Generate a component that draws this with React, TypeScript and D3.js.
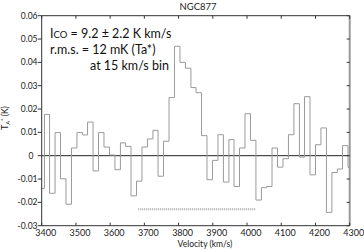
import React from "react";
import * as d3 from "d3";

// Channel left-edge velocities (km/s) and antenna temperatures (K)
const velocities = [
  3392, 3408, 3423, 3439, 3455, 3471, 3487, 3503, 3519, 3534, 3550, 3566, 3582,
  3598, 3614, 3630, 3645, 3661, 3677, 3693, 3709, 3725, 3740, 3756, 3772, 3788,
  3804, 3820, 3836, 3851, 3867, 3883, 3899, 3915, 3931, 3947, 3962, 3978, 3994,
  4010, 4026, 4042, 4057, 4073, 4089, 4105, 4121, 4137, 4153, 4168, 4184, 4200,
  4216, 4232, 4248, 4264, 4279, 4295,
];
const temperatures = [
  -0.014, 0.0177, -0.0161, 0.0099, -0.0099, -0.0208, 0.0033, 0.0099, 0.0089,
  0.0144, -0.0065, 0.0099, 0.0037, 0.0003, -0.006, 0.0055, 0.004, -0.0172,
  -0.0109, 0.0037, 0.0072, 0.0109, -0.0088, 0.0062, 0.0249, 0.0469, 0.04,
  0.0375, 0.0292, 0.027, 0.0086, -0.0103, -0.002, 0.009, -0.0113, 0.0069,
  -0.0132, 0.0033, 0.018, 0.0066, -0.019, -0.0137, -0.0132, 0.0033, -0.0049,
  -0.0013, 0.009, 0.0223, -0.0006, 0.0253, -0.0082, 0.0047, 0.0119, -0.0243,
  -0.0072, -0.0057, 0.0043, -0.005,
];
const channelWidth = 15.85;
const xTicks = [3400, 3500, 3600, 3700, 3800, 3900, 4000, 4100, 4200, 4300];
const yTicks = [-0.03, -0.02, -0.01, 0, 0.01, 0.02, 0.03, 0.04, 0.05, 0.06];
const lineRange = [3682, 4024];
const lineLevel = -0.023;
const title = "NGC877";
const xTitle = "Velocity (km/s)";

const W = 364;
const H = 249;
const L = 41.7;
const R = 349.7;
const T = 15.7;
const B = 225.7;

export default function App() {
  const x = d3.scaleLinear().domain([3400, 4300]).range([L, R]);
  const y = d3.scaleLinear().domain([-0.03, 0.06]).range([B, T]);

  const pts: [number, number][] = velocities.map((v, i) => [v, temperatures[i]]);
  pts.push([velocities[velocities.length - 1] + channelWidth, temperatures[temperatures.length - 1]]);
  const step = d3
    .line<[number, number]>()
    .x((d) => x(d[0]))
    .y((d) => y(d[1]))
    .curve(d3.curveStepAfter)(pts) as string;

  const font = "Lato, 'Liberation Sans', Arial, sans-serif";
  const axisColor = "#333";

  return (
    <svg
      width={W}
      height={H}
      style={{ position: "absolute", left: 0, top: 0, background: "#fff" }}
      fontFamily={font}
    >
      <defs>
        <clipPath id="plot">
          <rect x={L} y={T} width={R - L} height={B - T} />
        </clipPath>
      </defs>
      <rect x={0} y={0} width={W} height={H} fill="#fff" />

      {/* zero line */}
      <line x1={L} x2={R} y1={y(0)} y2={y(0)} stroke="#222" strokeWidth={1} />

      {/* spectrum */}
      <path d={step} fill="none" stroke="#9a9a9a" strokeWidth={1} clipPath="url(#plot)" />

      {/* dotted velocity range line */}
      <line
        x1={x(lineRange[0])}
        x2={x(lineRange[1])}
        y1={y(lineLevel)}
        y2={y(lineLevel)}
        stroke="#aaa"
        strokeWidth={2}
        strokeDasharray="1,1"
      />

      {/* frame */}
      <line x1={L} x2={L} y1={T} y2={B} stroke={axisColor} strokeWidth={1} />
      <line x1={L} x2={R} y1={B} y2={B} stroke={axisColor} strokeWidth={1} />
      <line x1={L} x2={R} y1={T} y2={T} stroke={axisColor} strokeWidth={1} />
      <line x1={R} x2={R} y1={T} y2={B} stroke="#999" strokeWidth={2} />

      {/* x ticks */}
      {xTicks.map((t) => (
        <g key={"x" + t}>
          <line x1={x(t)} x2={x(t)} y1={B} y2={B - 3} stroke={axisColor} />
          <line x1={x(t)} x2={x(t)} y1={T} y2={T + 3} stroke={axisColor} />
          <text x={x(t) + 4} y={235.5} fontSize={9} textAnchor="middle" fill="#222">
            {t}
          </text>
        </g>
      ))}

      {/* y ticks */}
      {yTicks.map((t) => (
        <g key={"y" + t}>
          <line x1={L - 4} x2={L} y1={y(t)} y2={y(t)} stroke={axisColor} />
          <line x1={R - 3} x2={R} y1={y(t)} y2={y(t)} stroke={axisColor} />
          <text
            x={Math.abs(t) < 1e-9 ? 33.5 : 37.5}
            y={y(t) + 3}
            fontSize={8.5}
            textAnchor="end"
            fill="#222"
          >
            {Math.abs(t) < 1e-9 ? "0" : t.toFixed(2)}
          </text>
        </g>
      ))}

      {/* titles */}
      <text x={198} y={10} fontSize={9.5} textAnchor="middle" fill="#222">
        {title}
      </text>
      <text x={205} y={247} fontSize={8.5} textAnchor="middle" fill="#222">
        {xTitle}
      </text>
      <text transform="translate(8,118) rotate(-90)" fontSize={8.5} textAnchor="middle" fill="#222">
        T<tspan fontSize={6} dy={2}>A</tspan>
        <tspan fontSize={6} dy={-5}>*</tspan>
        <tspan dy={3}> (K)</tspan>
      </text>

      {/* annotation */}
      <text x={50} y={38} fontSize={12.5} fill="#111">
        I<tspan fontSize={9.5}>CO</tspan> = 9.2 ± 2.2 K km/s
      </text>
      <text x={50} y={53.5} fontSize={12.5} fill="#111">
        r.m.s. = 12 mK (Ta*)
      </text>
      <text x={90} y={69.5} fontSize={12.5} fill="#111">
        at 15 km/s bin
      </text>
    </svg>
  );
}
